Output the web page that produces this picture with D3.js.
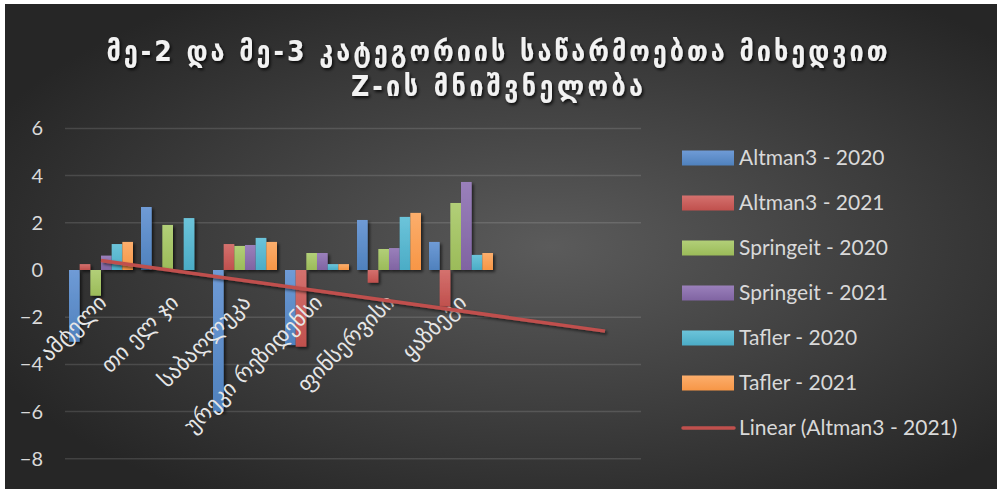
<!DOCTYPE html>
<html>
<head>
<meta charset="utf-8">
<script src="https://cdn.jsdelivr.net/npm/d3@7"></script>
<style>
  body { margin: 0; background: #fff; }
  svg { display: block; }
</style>
</head>
<body>
<svg width="997" height="489"></svg>
<script>
// chart data, two empty slots at the end like in the sheet
var categories = ["ამტელი", "თი ელ ჯი", "საბაღლუკა", "ურეკი რეზიდენსი", "ფინსერვისი", "ყაზბეგი", "", ""];
var seriesNames = ["Altman3 - 2020", "Altman3 - 2021", "Springeit - 2020", "Springeit - 2021", "Tafler - 2020", "Tafler - 2021"];
var altman2020 = [-3.04, 2.67, -6.0, -3.18, 2.12, 1.19];
var altman2021 = [0.25, 0, 1.10, -3.25, -0.54, -1.55];
var springeit2020 = [-1.09, 1.91, 1.02, 0.72, 0.89, 2.84];
var springeit2021 = [0.61, 0, 1.06, 0.72, 0.93, 3.73];
var tafler2020 = [1.10, 2.20, 1.36, 0.25, 2.25, 0.64];
var tafler2021 = [1.19, 0, 1.19, 0.25, 2.42, 0.72];
var yTicks = [-8, -6, -4, -2, 0, 2, 4, 6];
var titleLines = ["მე-2 და მე-3 კატეგორიის საწარმოებთა მიხედვით", "Z-ის მნიშვნელობა"];
var trendName = "Linear (Altman3 - 2021)";

var allSeries = [altman2020, altman2021, springeit2020, springeit2021, tafler2020, tafler2021];
var colors = ["#4f81bd", "#c0504d", "#9bbb59", "#8064a2", "#4bacc6", "#f79646"];
var lightColors = ["#6f9bd6", "#d4716e", "#b2cf78", "#9a80bb", "#6cc4da", "#fcae6c"];

var svg = d3.select("svg");
var defs = svg.append("defs");

// dark radial background
var bg = defs.append("radialGradient").attr("id", "bg")
    .attr("cx", "55%").attr("cy", "50%").attr("r", "62%");
bg.append("stop").attr("offset", "0%").attr("stop-color", "#5b5b5b");
bg.append("stop").attr("offset", "100%").attr("stop-color", "#262626");

colors.forEach(function(c, i) {
  var g = defs.append("linearGradient").attr("id", "grad" + i)
      .attr("x1", 0).attr("y1", 0).attr("x2", 0).attr("y2", 1);
  g.append("stop").attr("offset", "0%").attr("stop-color", lightColors[i]);
  g.append("stop").attr("offset", "100%").attr("stop-color", c);
});

var shadow = defs.append("filter").attr("id", "shadow")
    .attr("x", "-20%").attr("y", "-20%").attr("width", "150%").attr("height", "150%");
shadow.append("feDropShadow").attr("dx", 2).attr("dy", 2).attr("stdDeviation", 1.5)
    .attr("flood-color", "#000").attr("flood-opacity", 0.6);

var textShadow = defs.append("filter").attr("id", "tshadow")
    .attr("x", "-5%").attr("y", "-30%").attr("width", "110%").attr("height", "160%");
textShadow.append("feDropShadow").attr("dx", 1.5).attr("dy", 2).attr("stdDeviation", 1.5)
    .attr("flood-color", "#000").attr("flood-opacity", 0.8);

svg.append("rect").attr("x", 5).attr("y", 4).attr("width", 992).attr("height", 485)
    .attr("fill", "url(#bg)");

// title
svg.selectAll("text.title")
  .data(titleLines)
  .enter().append("text")
    .attr("class", "title")
    .attr("x", 497)
    .attr("y", function(d, i) { return 61 + i * 35; })
    .attr("text-anchor", "middle")
    .attr("textLength", function(d, i) { return i == 0 ? 781 : 292; })
    .attr("lengthAdjust", "spacing")
    .style("font-family", "'DejaVu Sans Condensed', 'DejaVu Sans', sans-serif")
    .style("font-weight", "bold")
    .style("font-size", "28px")
    .style("fill", "#f2f2f2")
    .attr("filter", "url(#tshadow)")
    .text(function(d) { return d; });

// scales
var x0 = d3.scaleBand()
    .domain(d3.range(categories.length))
    .range([65, 641])
    .padding(0);

var gap = 8;
var x1 = d3.scaleBand()
    .domain(d3.range(allSeries.length))
    .range([gap / 2, x0.bandwidth() - gap / 2])
    .padding(0);

var y = d3.scaleLinear()
    .domain([-8, 6])
    .range([458.8, 128.4]);

// gridlines
svg.append("g").selectAll("line")
  .data(yTicks.filter(function(t) { return t != 0; }))
  .enter().append("line")
    .attr("x1", 65).attr("x2", 641)
    .attr("y1", function(d) { return y(d); })
    .attr("y2", function(d) { return y(d); })
    .attr("stroke", "#ffffff").attr("stroke-opacity", 0.13)
    .attr("stroke-width", 1.5);

// y axis labels
var yAxis = svg.append("g")
    .attr("transform", "translate(43,0)")
    .call(d3.axisLeft(y).tickValues(yTicks).tickSize(0).tickPadding(0).tickFormat(d3.format("d")));
yAxis.select(".domain").remove();
yAxis.selectAll("text")
    .style("font-family", "Lato, sans-serif")
    .style("font-size", "20px")
    .style("fill", "#d9d9d9");

// bars
var groups = svg.append("g").selectAll("g")
  .data(allSeries)
  .enter().append("g")
    .attr("fill", function(d, i) { return "url(#grad" + i + ")"; })
    .attr("filter", "url(#shadow)");

groups.each(function(values, s) {
  var pts = values.map(function(v, i) { return { i: i, v: v }; })
      .filter(function(d) { return d.v != 0; });
  d3.select(this).selectAll("rect")
    .data(pts)
    .enter().append("rect")
      .attr("x", function(d) { return x0(d.i) + x1(s); })
      .attr("width", x1.bandwidth())
      .attr("y", function(d) { return y(Math.max(0, d.v)); })
      .attr("height", function(d) { return Math.abs(y(d.v) - y(0)); });
});

// zero axis line
svg.append("line")
    .attr("x1", 65).attr("x2", 641)
    .attr("y1", y(0)).attr("y2", y(0))
    .attr("stroke", "#c8c8c8").attr("stroke-width", 2.5)
    .attr("filter", "url(#shadow)");

// category labels, rotated
svg.append("g").selectAll("text")
  .data(categories)
  .enter().append("text")
    .attr("transform", function(d, i) {
      return "translate(" + (x0(i) + x0.bandwidth() / 2 - 4) + "," + 293 + ") rotate(-45)";
    })
    .attr("text-anchor", "end")
    .attr("dy", "0.7em")
    .style("font-family", "'DejaVu Sans', sans-serif")
    .style("font-size", "22px")
    .style("fill", "#e6e6e6")
    .text(function(d) { return d; });

// linear trendline of Altman3 - 2021, forecast forward to the last slot
var n = altman2021.length;
var xs = d3.range(1, n + 1);
var mx = d3.mean(xs), my = d3.mean(altman2021);
var slope = d3.sum(xs, function(xv, k) { return (xv - mx) * (altman2021[k] - my); }) /
            d3.sum(xs, function(xv) { return (xv - mx) * (xv - mx); });
var icpt = my - slope * mx;
var trendPts = [1, categories.length].map(function(xv) {
  return [x0(xv - 1) + x0.bandwidth() / 2, y(icpt + slope * xv)];
});
svg.append("path")
    .attr("d", d3.line()(trendPts))
    .attr("stroke", "#c0504d").attr("stroke-width", 3.5)
    .attr("fill", "none")
    .attr("filter", "url(#shadow)");

// legend
var legend = svg.append("g").attr("transform", "translate(682,158)");
var items = legend.selectAll("g")
  .data(seriesNames.concat([trendName]))
  .enter().append("g")
    .attr("transform", function(d, i) { return "translate(0," + i * 45 + ")"; });

items.each(function(d, i) {
  var it = d3.select(this);
  if (i < seriesNames.length) {
    it.append("rect").attr("x", 0).attr("y", -7.5).attr("width", 52).attr("height", 15)
      .attr("fill", "url(#grad" + i + ")");
  } else {
    it.append("line").attr("x1", 1).attr("x2", 52).attr("y1", 0).attr("y2", 0)
      .attr("stroke", "#c0504d").attr("stroke-width", 3.5).attr("stroke-linecap", "round");
  }
  it.append("text")
    .attr("x", 57).attr("dy", "0.35em")
    .style("font-family", "Lato, sans-serif")
    .style("font-size", "21px")
    .style("fill", "#d9d9d9")
    .text(d);
});
</script>
</body>
</html>
